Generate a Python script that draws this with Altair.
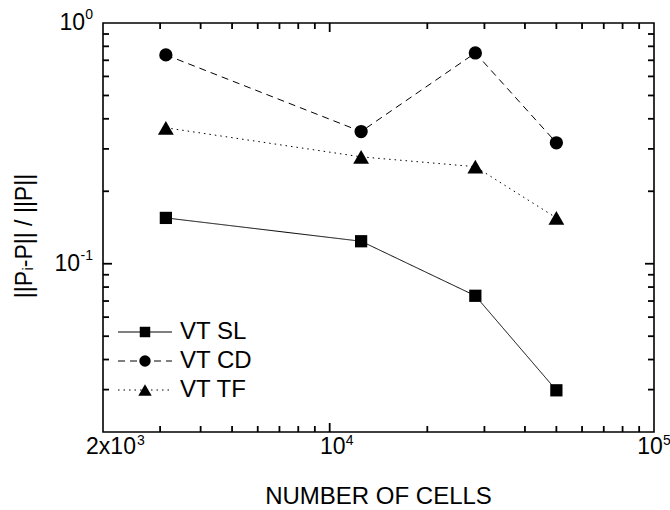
import altair as alt
import pandas as pd

# ---- data ----
cells = [3125, 12500, 28125, 50000]
vt_sl = [0.155, 0.124, 0.0736, 0.0298]
vt_cd = [0.737, 0.354, 0.751, 0.318]
vt_tf = [0.367, 0.278, 0.253, 0.155]
series_names = ["VT SL", "VT CD", "VT TF"]

x_domain = [2000, 100000]
y_domain = [0.02, 1]
x_label_values = [2000, 10000, 100000]
x_label_base = ["2x10", "10", "10"]
x_label_exp = ["3", "4", "5"]
y_label_values = [0.1, 1]
y_label_base = ["10", "10"]
y_label_exp = ["-1", "0"]
x_major_ticks = [10000]
x_minor_ticks = [3000, 4000, 5000, 6000, 7000, 8000, 9000,
                 20000, 30000, 40000, 50000, 60000, 70000, 80000, 90000]
y_major_ticks = [0.1]
y_minor_ticks = [0.03, 0.04, 0.05, 0.06, 0.07, 0.08, 0.09,
                 0.2, 0.3, 0.4, 0.5, 0.6, 0.7, 0.8, 0.9]

x_title = "NUMBER OF CELLS"
y_title = "||P\u1d62-P|| / ||P||"

# ---- styles ----
FONT = "Liberation Sans"
W, H = 551, 409
shapes = ["square", "circle", "triangle-up"]
plot_sizes = [150, 177, 250]
legend_sizes = [110, 130, 180]
dashes = [[1, 0], [7, 5], [1.5, 4]]
legend_rows = [309, 338, 367]
leg_x0, leg_x1, leg_xm, leg_xt = 15, 69, 42, 77
MAJOR, MINOR = 9, 6
TICK_W = 1.8
x_base_dx = [8, 3, -4]
x_exp_dx = [34, 16, 9]
y_base_pad = [23, 18]

rows = []
for name, vals in zip(series_names, [vt_sl, vt_cd, vt_tf]):
    for c, v in zip(cells, vals):
        rows.append({"series": name, "cells": c, "value": v})
df = pd.DataFrame(rows)

xs = alt.Scale(type="log", domain=x_domain, nice=False)
ys = alt.Scale(type="log", domain=y_domain, nice=False)

base = alt.Chart(df)
layers = []

# inward ticks on all four sides (drawn first, directly on the frame)
for vals, L in [(x_major_ticks, MAJOR), (x_minor_ticks, MINOR)]:
    src = alt.Chart(pd.DataFrame({"tx": vals}))
    layers.append(src.mark_rule(color="#000000", strokeWidth=TICK_W, opacity=1).encode(
        x=alt.X("tx:Q", scale=xs, axis=None), y=alt.value(H), y2=alt.value(H - L)))
    layers.append(src.mark_rule(color="#000000", strokeWidth=TICK_W, opacity=1).encode(
        x=alt.X("tx:Q", scale=xs, axis=None), y=alt.value(0), y2=alt.value(L)))
for vals, L in [(y_major_ticks, MAJOR), (y_minor_ticks, MINOR)]:
    src = alt.Chart(pd.DataFrame({"ty": vals}))
    layers.append(src.mark_rule(color="#000000", strokeWidth=TICK_W, opacity=1).encode(
        y=alt.Y("ty:Q", scale=ys, axis=None), x=alt.value(0), x2=alt.value(L)))
    layers.append(src.mark_rule(color="#000000", strokeWidth=TICK_W, opacity=1).encode(
        y=alt.Y("ty:Q", scale=ys, axis=None), x=alt.value(W), x2=alt.value(W - L)))

# lines and markers
for name, dash, shp, sz in zip(series_names, dashes, shapes, plot_sizes):
    sub = base.transform_filter(alt.datum.series == name)
    layers.append(sub.mark_line(color="black", strokeWidth=1, strokeDash=dash).encode(
        x=alt.X("cells:Q", scale=xs, axis=None),
        y=alt.Y("value:Q", scale=ys, axis=None)))
    layers.append(sub.mark_point(shape=shp, size=sz, filled=True, color="black", opacity=1).encode(
        x=alt.X("cells:Q", scale=xs, axis=None),
        y=alt.Y("value:Q", scale=ys, axis=None)))

# tick labels (base and superscript exponent), placed through the scales
for v, b, e, dxb, dxe in zip(x_label_values, x_label_base, x_label_exp, x_base_dx, x_exp_dx):
    src = alt.Chart(pd.DataFrame({"tx": [v], "b": [b], "e": [e]}))
    layers.append(src.mark_text(font=FONT, fontSize=23, color="black", align="center",
                                baseline="middle", dx=dxb).encode(
        x=alt.X("tx:Q", scale=xs, axis=None), y=alt.value(H + 15), text="b:N"))
    layers.append(src.mark_text(font=FONT, fontSize=14, color="black", align="left",
                                baseline="middle", dx=dxe).encode(
        x=alt.X("tx:Q", scale=xs, axis=None), y=alt.value(H + 9), text="e:N"))
for v, b, e, pad in zip(y_label_values, y_label_base, y_label_exp, y_base_pad):
    src = alt.Chart(pd.DataFrame({"ty": [v], "b": [b], "e": [e]}))
    layers.append(src.mark_text(font=FONT, fontSize=23, color="black", align="right",
                                baseline="middle").encode(
        y=alt.Y("ty:Q", scale=ys, axis=None), x=alt.value(-pad), text="b:N"))
    layers.append(src.mark_text(font=FONT, fontSize=14, color="black", align="right",
                                baseline="middle", dy=-8).encode(
        y=alt.Y("ty:Q", scale=ys, axis=None), x=alt.value(-10), text="e:N"))

# axis titles
tsrc = alt.Chart(pd.DataFrame({"xt": [x_title], "yt": [y_title]}))
layers.append(tsrc.mark_text(font=FONT, fontSize=24, color="black", align="center",
                             baseline="middle").encode(
    x=alt.value(W / 2), y=alt.value(H + 65), text="xt:N"))
layers.append(tsrc.mark_text(font=FONT, fontSize=23, color="black", align="center",
                             baseline="middle", angle=270).encode(
    x=alt.value(-78), y=alt.value(213), text="yt:N"))

# legend (inside, lower left)
for name, dash, shp, sz, ly in zip(series_names, dashes, shapes, legend_sizes, legend_rows):
    ldf = alt.Chart(pd.DataFrame({"name": [name]}))
    layers.append(ldf.mark_rule(color="black", strokeWidth=1, strokeDash=dash).encode(
        x=alt.value(leg_x0), x2=alt.value(leg_x1), y=alt.value(ly)))
    layers.append(ldf.mark_point(shape=shp, size=sz, filled=True, color="black", opacity=1).encode(
        x=alt.value(leg_xm), y=alt.value(ly)))
    layers.append(ldf.mark_text(align="left", baseline="middle", fontSize=24, font=FONT, color="black").encode(
        x=alt.value(leg_xt), y=alt.value(ly), text="name:N"))

chart = alt.layer(*layers).properties(
    width=W, height=H,
    autosize=alt.AutoSizeParams(type="none"),
    padding={"left": 103, "top": 23, "right": 16, "bottom": 78},
).configure(background="white").configure_view(stroke="black", strokeWidth=1.6)

chart.save("out.html", embed_options={"renderer": "svg", "actions": False})
